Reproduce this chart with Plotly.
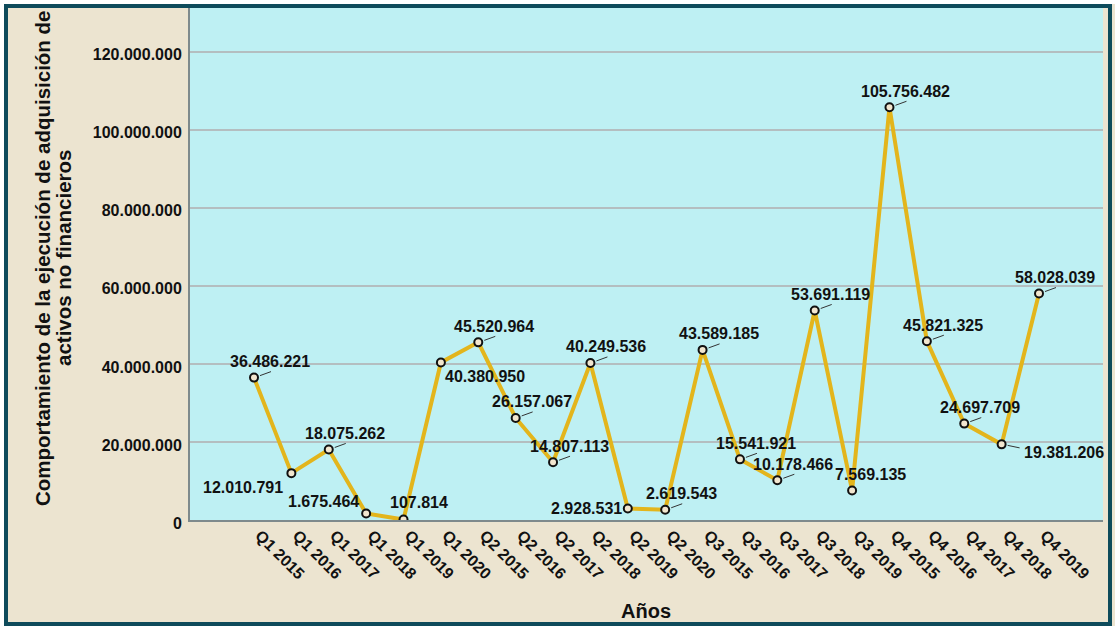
import plotly.graph_objects as go

categories = ["Q1 2015", "Q1 2016", "Q1 2017", "Q1 2018", "Q1 2019", "Q1 2020",
              "Q2 2015", "Q2 2016", "Q2 2017", "Q2 2018", "Q2 2019", "Q2 2020",
              "Q3 2015", "Q3 2016", "Q3 2017", "Q3 2018", "Q3 2019",
              "Q4 2015", "Q4 2016", "Q4 2017", "Q4 2018", "Q4 2019"]
values = [36486221, 12010791, 18075262, 1675464, 107814, 40380950,
          45520964, 26157067, 14807113, 40249536, 2928531, 2619543,
          43589185, 15541921, 10178466, 53691119, 7569135,
          105756482, 45821325, 24697709, 19381206, 58028039]
y_tickvals = [0, 20000000, 40000000, 60000000, 80000000, 100000000, 120000000]
x_title = "Años"
y_title_lines = ["Comportamiento de la ejecución de adquisición de", "activos no financieros"]


def fmt(v):
    return f"{v:,}".replace(",", ".")


W, H = 1115, 626
ML, MR, MT, MB = 190, 12, 8, 106
PW, PH = W - ML - MR, H - MT - MB

FONT = "Liberation Sans, Arial, sans-serif"
LINE_COLOR = "#E3B51C"
PAPER = "#ECE4D0"
PLOT_BG = "#BEF0F3"

# label placement: (xanchor, xshift, yshift, leader)  default = above-right with leader
placement = {
    "Q1 2016": ("right", -6, -14, None),
    "Q1 2018": ("right", -5, 12, None),
    "Q1 2019": ("center", 15, 17, None),
    "Q1 2020": ("center", 44, -14, None),
    "Q2 2019": ("right", -4, 0, None),
    "Q3 2019": ("center", 18, 16, None),
    "Q4 2018": ("left", 20, -8, (6, -1, 18, -3.5)),
}
default_place = ("center", 16, 16, (6, 2, 17, 6))

x_idx = list(range(len(categories)))

fig = go.Figure()
fig.add_trace(go.Scatter(
    x=x_idx, y=values, mode="lines+markers",
    line=dict(color=LINE_COLOR, width=4),
    marker=dict(size=8, color="#F2E6CF", line=dict(color="#111111", width=2)),
    hoverinfo="skip", showlegend=False,
))

annotations = []
shapes = []
for i, (c, v) in enumerate(zip(categories, values)):
    xa, xs, ys, leader = placement.get(c, default_place)
    annotations.append(dict(
        x=i, y=v, xref="x", yref="y", text=fmt(v), showarrow=False,
        xanchor=xa, yanchor="middle", xshift=xs, yshift=ys,
        font=dict(family=FONT, size=16, color="#111111", weight="bold"),
    ))
    if leader:
        x0, y0, x1, y1 = leader
        shapes.append(dict(
            type="line", xref="x", yref="y", xsizemode="pixel", ysizemode="pixel",
            xanchor=i, yanchor=v, x0=x0, y0=y0, x1=x1, y1=y1,
            line=dict(color="#333333", width=1),
        ))


def px_x(p):
    return (p - ML) / PW


def px_y(p):
    return (H - MB - p) / PH


# y-axis title (two lines)
for xp, txt in zip([42, 63], y_title_lines):
    annotations.append(dict(
        x=px_x(xp), y=px_y(258), xref="paper", yref="paper", text=txt,
        showarrow=False, textangle=-90, xanchor="center", yanchor="middle",
        font=dict(family=FONT, size=20.5, color="#111111", weight="bold"),
    ))
# x-axis title
annotations.append(dict(
    x=px_x(646), y=px_y(611), xref="paper", yref="paper", text=x_title,
    showarrow=False, xanchor="center", yanchor="middle",
    font=dict(family=FONT, size=20, color="#111111", weight="bold"),
))

# outer frame
shapes.append(dict(type="rect", xref="paper", yref="paper", layer="above",
                   x0=px_x(0), x1=px_x(W + 10), y0=px_y(H + 10), y1=px_y(0),
                   line=dict(color="white", width=8)))
shapes.append(dict(type="rect", xref="paper", yref="paper", layer="above",
                   x0=px_x(6), x1=px_x(1110), y0=px_y(624), y1=px_y(6),
                   line=dict(color="#0E4B5B", width=4)))

fig.update_layout(
    width=W, height=H,
    margin=dict(l=ML, r=MR, t=MT, b=MB),
    paper_bgcolor=PAPER, plot_bgcolor=PLOT_BG,
    separators=",.",
    annotations=annotations, shapes=shapes,
    font=dict(family=FONT, color="#111111"),
)
fig.update_xaxes(
    range=[-1.712, 22.712], tickvals=x_idx, ticktext=categories, tickangle=45,
    showgrid=False, zeroline=False, showline=True, linecolor="#7E8A8C", linewidth=2,
    tickfont=dict(family=FONT, size=16, color="#111111", weight="bold"),
    ticks="", ticklabelshift=6, ticklabelstandoff=-2,
)
fig.update_yaxes(
    range=[0, 131.2e6], tickvals=y_tickvals, tickformat=",d",
    showgrid=True, gridcolor="#B4BEC0", gridwidth=2, zeroline=False,
    showline=True, linecolor="#7E8A8C", linewidth=2,
    tickfont=dict(family=FONT, size=16, color="#111111", weight="bold"),
    ticks="", ticklabelstandoff=3, ticklabelshift=3,
)

fig.write_html(
    "out.html",
    config={"displayModeBar": False},
    post_script="document.body.style.margin='0';document.body.style.overflow='hidden';",
)
